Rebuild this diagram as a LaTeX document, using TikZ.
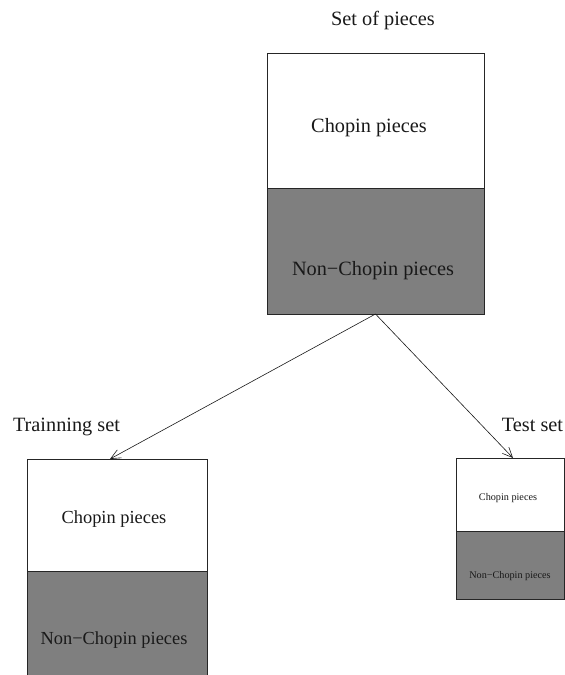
\documentclass[tikz,border=0pt]{standalone}
\usepackage{fontspec}
\setmainfont{Liberation Serif}
\usetikzlibrary{arrows.meta}
\definecolor{partgray}{HTML}{7F7F7F}
\tikzset{
  part/.style={draw=black!85, line width=0.9pt, inner sep=0pt, outer sep=0pt},
  chopin/.style={part, fill=white},
  nonchopin/.style={part, fill=partgray},
  lbl/.style={inner sep=0pt, anchor=base, text=black!90},
  big/.style={font=\fontsize{20.3}{24}\selectfont},
  mid/.style={font=\fontsize{18.4}{22}\selectfont},
  small/.style={font=\fontsize{10.2}{12}\selectfont},
  split/.style={line width=0.6pt, black!90, -{Straight Barb[length=10pt,width=9pt]}}
}
\begin{document}
\begin{tikzpicture}[x=1pt,y=-1pt]
\useasboundingbox (0,0) rectangle (565,675);
\clip (0,0) rectangle (565,675);

% whole collection
\node[chopin, minimum width=217pt, minimum height=135pt] (setUp) at (375.5,120.5) {};
\node[nonchopin, minimum width=217pt, minimum height=126pt] (setLow) at (375.5,251) {};
\node[lbl, big] (setTitle) at (383,25) {Set of pieces};
\node[lbl, big] (setC) at (369,132) {Chopin pieces};
\node[lbl, big] (setN) at (373,275) {Non−Chopin pieces};

% training part
\node[chopin, minimum width=180pt, minimum height=112pt] (trainUp) at (117,515) {};
\node[nonchopin, minimum width=180pt, minimum height=130pt] (trainLow) at (117,636) {};
\node[lbl, big] (trainTitle) at (66.5,431) {Trainning set};
\node[lbl, mid] (trainC) at (114,523) {Chopin pieces};
\node[lbl, mid] (trainN) at (114,644) {Non−Chopin pieces};

% test part
\node[chopin, minimum width=108.5pt, minimum height=73pt] (testUp) at (510.25,494.5) {};
\node[nonchopin, minimum width=108.5pt, minimum height=68pt] (testLow) at (510.25,565) {};
\node[lbl, big] (testTitle) at (532.5,431) {Test set};
\node[lbl, small] (testC) at (508,500) {Chopin pieces};
\node[lbl, small] (testN) at (510,578) {Non−Chopin pieces};

% splitting arrows
\draw[split] (setLow.south) -- ([xshift=-7pt]trainUp.north);
\draw[split] (setLow.south) -- ([xshift=2.75pt]testUp.north);
\end{tikzpicture}
\end{document}
